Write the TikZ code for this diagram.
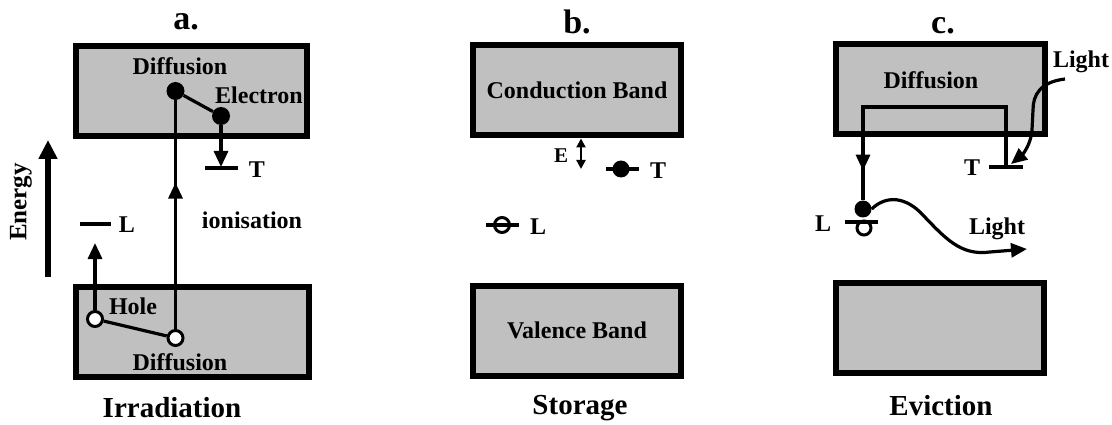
\documentclass[tikz,border=0pt]{standalone}
\usepackage{fontspec}
\setmainfont{Liberation Serif}
\usetikzlibrary{arrows.meta,positioning,decorations.markings,calc}
\definecolor{bandgray}{HTML}{C0C0C0}

\tikzset{
  band/.style={draw, line width=6pt, fill=bandgray, minimum height=90pt, inner sep=0pt},
  lbl/.style={font=\fontsize{24}{26}\selectfont\bfseries, inner sep=0pt},
  capt/.style={font=\fontsize{29}{31}\selectfont\bfseries, inner sep=0pt},
  ttl/.style={font=\fontsize{34}{36}\selectfont\bfseries, inner sep=0pt},
  elec/.style={circle, fill=black, minimum size=18pt, inner sep=0pt},
  hole/.style={circle, draw, line width=3pt, fill=white, minimum size=15pt, inner sep=0pt},
  lev/.style={line width=3.6pt},
  conn/.style={line width=3.2pt},
  midarrow/.style={postaction={decorate}, decoration={markings,
      mark=at position #1 with {\arrow{Triangle[length=16pt,width=14pt]}}}}
}

\begin{document}
\begin{tikzpicture}[x=1pt, y=-1pt, >={Triangle[length=16pt,width=14pt]}]
  \useasboundingbox (0,0) rectangle (1112,425);

  % energy axis
  \coordinate (enB) at (48,277);
  \coordinate (enT) at (48,140);
  \draw[line width=5.5pt, -{Triangle[length=19pt,width=18pt]}] (enB) -- (enT);
  \node[lbl, font=\fontsize{25}{27}\selectfont\bfseries, rotate=90] (energy) at (21,202) {Energy};

  % (a) irradiation
  \node[band, minimum width=231pt] (cbA) at (191.5,91) {};
  \node[band, minimum width=233pt] (vbA) at (192.5,331.5) {};
  \node[ttl]  (tA)   at (186,22)  {a.};
  \node[capt] (capA) at (172,408) {Irradiation};
  \draw[lev] (80,224) -- (111,224);
  \node[lbl] (LA) at (127,225) {L};
  \draw[lev] (205,168) -- (238,168);
  \node[lbl] (TAt) at (257,170) {T};
  \coordinate (TA) at (221,167);
  \coordinate (hTip) at (95,243);
  \node[hole] (h1) at (95,319) {};
  \node[hole] (h2) at (175.5,338) {};
  \node[elec] (e1) at (175.5,91) {};
  \node[elec] (e2) at (221,116) {};
  \draw[conn] (h1) -- (h2);
  \draw[conn] (e1) -- (e2);
  \draw[conn, ->] (h1) -- (hTip);
  \draw[conn, midarrow=0.64] (h2) -- (e1);
  \draw[conn, ->] (e2) -- (TA);
  \node[lbl] (difA) at (180,66)  {Diffusion};
  \node[lbl] (elA)  at (259,95)  {Electron};
  \node[lbl] (hoA)  at (133,306) {Hole};
  \node[lbl] (dihA) at (180,362) {Diffusion};
  \node[lbl] (ion)  at (252,220) {ionisation};

  % (b) storage
  \node[band, lbl, minimum width=208pt] (cbB) at (577,90.5) {Conduction Band};
  \node[band, lbl, minimum width=208pt] (vbB) at (577,330.5) {Valence Band};
  \node[ttl]  (tB)   at (577,22)  {b.};
  \node[capt] (capB) at (580,408) {Storage};
  \coordinate (gapB) at (581,169);
  \draw[line width=2.2pt, {Triangle[length=9pt,width=9pt]}-{Triangle[length=9pt,width=9pt]}]
       (cbB.south -| gapB) -- (gapB);
  \node[lbl, font=\fontsize{21}{23}\selectfont\bfseries] (EB) at (561,156) {E};
  \draw[lev] (606,169) -- (639,169);
  \node[elec, minimum size=17pt] (tB) at (621,169) {};
  \node[lbl] (TBt) at (658,171) {T};
  \node[hole] (hB) at (502,225) {};
  \draw[lev] (486,225) -- (519,225);
  \node[lbl] (LBt) at (538,227) {L};

  % (c) eviction
  \node[band, minimum width=209pt] (cbC) at (940.5,89) {};
  \node[band, minimum width=208pt] (vbC) at (940,328) {};
  \node[ttl]  (tC)   at (943,26)  {c.};
  \node[capt] (capC) at (941,406) {Eviction};
  \node[lbl]  (difC) at (931,80)  {Diffusion};
  \draw[lev] (989,167) -- (1023,167);
  \coordinate (TC) at (1006,167);
  \node[lbl] (TCt) at (972,168) {T};
  \node[hole, minimum size=14pt] (hC) at (864,228) {};
  \draw[lev] (845,222) -- (878,222);
  \node[elec, minimum size=17pt] (eC) at (863,209) {};
  \node[lbl] (LCt) at (823,224) {L};
  \draw[conn, midarrow=0.9] (TC) -- ++(0,-60) -| (eC);
  % emitted light
  \coordinate (lTip) at (1027,249);
  \draw[conn, ->] (eC.east) .. controls (884,197) and (902,195) .. (920,212)
       .. controls (945,238) and (960,256) .. (990,252) -- (lTip);
  \node[lbl] (lgtC) at (997,229) {Light};
  % stimulating light
  \node[lbl] (lgtT) at (1081,62) {Light};
  \coordinate (lSrc) at (1065,79);
  \draw[conn, ->] (lSrc) .. controls (1040,82) and (1033,95) .. (1033,110)
       -- (1032,130) .. controls (1031,145) and (1022,155) .. (1011,164);
\end{tikzpicture}
\end{document}
